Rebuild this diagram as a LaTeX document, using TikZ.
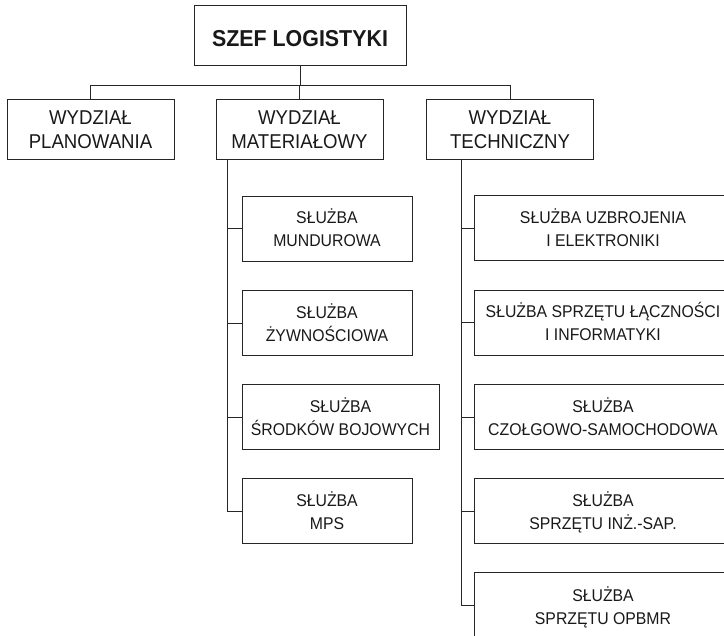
\documentclass[tikz,border=0pt]{standalone}
\usepackage{fontspec}
\setmainfont[FakeStretch=0.93]{Liberation Sans}
\newcommand{\topA}[1]{\rule{0pt}{#1}}
\newcommand{\botB}{\rule[-6pt]{0pt}{6pt}}
\begin{document}
\begin{tikzpicture}[x=1pt,y=-1pt,
  box/.style={draw=black!85, line width=1pt, inner sep=0pt, align=center, text=black!90},
  chief/.style={box, minimum width=212pt, minimum height=59.5pt, font=\bfseries\fontsize{23}{26}\selectfont},
  dept/.style={box, minimum width=167pt, minimum height=60pt, font=\fontsize{20}{23.3}\selectfont},
  serv/.style={box, minimum width=170pt, minimum height=65pt, font=\fontsize{17}{23}\selectfont},
  link/.style={draw=black!85, line width=1pt}]
\useasboundingbox (0,0) rectangle (724,636);
\clip (0,0) rectangle (724,636);
\fill[white] (0,0) rectangle (724,636);

\node[chief] (szef) at (300,35.75) {\topA{28pt}SZEF LOGISTYKI\botB};

\node[dept] (plan) at (90.5,130) {\topA{19.3pt}WYDZIAŁ\\PLANOWANIA\botB};
\node[dept] (mat) at (299.5,130) {\topA{19.3pt}WYDZIAŁ\\MATERIAŁOWY\botB};
\node[dept] (tech) at (510,130) {\topA{19.3pt}WYDZIAŁ\\TECHNICZNY\botB};

\node[serv] (m1) at (327,229) {\topA{19pt}SŁUŻBA\\MUNDUROWA\botB};
\node[serv] (m2) at (327,323.5) {\topA{19pt}SŁUŻBA\\ŻYWNOŚCIOWA\botB};
\node[serv, minimum width=197pt] (m3) at (340.5,417.5) {\topA{19pt}SŁUŻBA\\ŚRODKÓW BOJOWYCH\botB};
\node[serv] (m4) at (327,511.5) {\topA{19pt}SŁUŻBA\\MPS\botB};

\node[serv, minimum width=258pt] (t1) at (603,228.5) {\topA{19pt}SŁUŻBA UZBROJENIA\\I ELEKTRONIKI\botB};
\node[serv, minimum width=258pt] (t2) at (603,323) {\topA{19pt}SŁUŻBA SPRZĘTU ŁĄCZNOŚCI\\I INFORMATYKI\botB};
\node[serv, minimum width=258pt] (t3) at (603,417.5) {\topA{19pt}SŁUŻBA\\CZOŁGOWO-SAMOCHODOWA\botB};
\node[serv, minimum width=258pt] (t4) at (603,511.5) {\topA{19pt}SŁUŻBA\\SPRZĘTU INŻ.-SAP.\botB};
\node[serv, minimum width=258pt, minimum height=66pt] (t5) at (603,606) {\topA{19pt}SŁUŻBA\\SPRZĘTU OPBMR\botB};

\coordinate (bus) at (0,86);
\coordinate (mx) at (227,0);
\coordinate (tx) at (461,0);

\draw[link] (szef.south) -- (szef.south |- bus);
\draw[link] (plan.north) |- (bus -| tech.north) -- (tech.north);
\draw[link] (mat.north) -- (mat.north |- bus);

\draw[link] (mat.south -| mx) -- (mx |- m4.west) -- (m4.west);
\foreach \n in {m1,m2,m3} \draw[link] (mx |- \n.west) -- (\n.west);

\draw[link] (tech.south -| tx) -- (tx |- t5.west) -- (t5.west);
\foreach \n in {t1,t2,t3,t4} \draw[link] (tx |- \n.west) -- (\n.west);
\end{tikzpicture}
\end{document}
